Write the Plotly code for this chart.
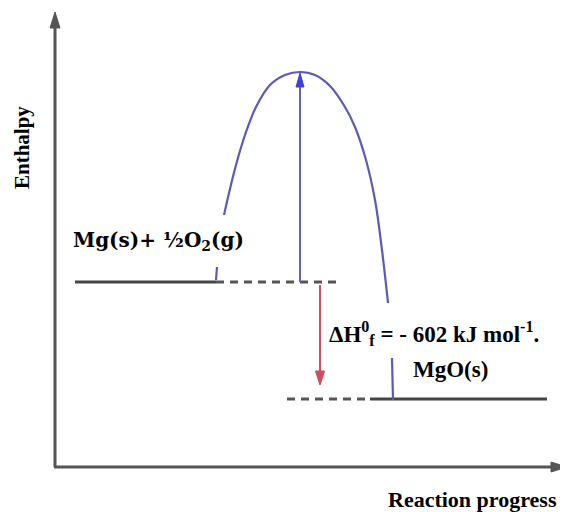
import plotly.graph_objects as go

# Data units: x = reaction progress, y = enthalpy (arbitrary units)
reactant_level = 185
product_level = 68
peak_level = 395

reactant_solid_x = [20, 161]
reactant_dash_x = [161, 282]
product_dash_x = [232, 315]
product_solid_x = [315, 492]

# Activation-energy curve (None marks where labels interrupt it)
curve_x = [161, 162, None, 169, 174, 181, 190, 201, 215, 230, 245, 260, 275, 290, 300, 311, 320, 327, 333,
           None, 337, 338]
curve_y = [187, 200, None, 252, 274, 302, 332, 360, 382, 392, 395, 392, 381, 360, 340, 307, 267, 217, 164,
           None, 109, 67]

ea_arrow_x = 245
dh_arrow_x = 265
dh_arrow_y = [182, 82]

axis_x_end = 512
axis_y_end = 455

labels = ["Mg(s)+ ½O<sub>2</sub>(g)",
          "ΔH<sup>0</sup><sub>f</sub> = - 602 kJ mol<sup>-1</sup>.",
          "MgO(s)"]
label_x = [16, 272, 356]
label_y = [226, 134, 98]
label_font = ["DejaVu Serif", "Liberation Serif", "Liberation Serif"]
label_size = [20, 23, 23]

SERIF = "Liberation Serif"
LINE = "#454545"
AXIS = "#555555"
CURVE = "#5a5ab8"

fig = go.Figure()


def seg(x, y, color, width, dash="solid"):
    fig.add_trace(go.Scatter(x=x, y=y, mode="lines",
                             line=dict(color=color, width=width, dash=dash),
                             hoverinfo="skip"))


def head(tx, ty, dx, dy, length, half, color):
    # filled triangular arrow head; (dx, dy) is the unit direction it points to
    bx, by = tx - dx * length, ty - dy * length
    px, py = -dy * half, dx * half
    fig.add_trace(go.Scatter(x=[tx, bx + px, bx - px, tx], y=[ty, by + py, by - py, ty],
                             mode="lines", fill="toself", fillcolor=color,
                             line=dict(color=color, width=1), hoverinfo="skip"))


# axes
seg([0, 0], [0, axis_y_end - 10], AXIS, 3)
head(0, axis_y_end, 0, 1, 16, 5, AXIS)
seg([-1, axis_x_end - 10], [0, 0], AXIS, 3)
head(axis_x_end, 0, 1, 0, 16, 5, AXIS)

# energy levels
seg(reactant_solid_x, [reactant_level] * 2, LINE, 3)
seg(reactant_dash_x, [reactant_level] * 2, "#555555", 3, dash="8px,6px")
seg(product_dash_x, [product_level] * 2, "#555555", 3, dash="8px,6px")
seg(product_solid_x, [product_level] * 2, LINE, 3)

# curve
fig.add_trace(go.Scatter(x=curve_x, y=curve_y, mode="lines",
                         line=dict(color=CURVE, width=2.2, shape="spline", smoothing=1.0),
                         connectgaps=False, hoverinfo="skip"))

# activation energy arrow
seg([ea_arrow_x, ea_arrow_x], [reactant_level, peak_level - 8], "#6464aa", 2)
head(ea_arrow_x, peak_level - 1, 0, 1, 14, 4, "#4040e0")

# enthalpy change arrow
seg([dh_arrow_x, dh_arrow_x], [dh_arrow_y[0], dh_arrow_y[1] + 8], "#c8505f", 2)
head(dh_arrow_x, dh_arrow_y[1], 0, -1, 14, 4.5, "#d04a60")

for t, lx, ly, fam, sz in zip(labels, label_x, label_y, label_font, label_size):
    fig.add_annotation(x=lx, y=ly, xref="x", yref="y", text="<b>" + t + "</b>",
                       showarrow=False, xanchor="left", yanchor="middle",
                       font=dict(family=fam, size=sz, color="black"))

fig.add_annotation(x=-33, y=319, xref="x", yref="y", text="<b>Enthalpy</b>",
                   showarrow=False, textangle=-90,
                   font=dict(family=SERIF, size=21, color="black"))
fig.add_annotation(x=417, y=-32, xref="x", yref="y", text="<b>Reaction progress</b>",
                   showarrow=False,
                   font=dict(family=SERIF, size=22, color="black"))

# the page body has an 8px margin; size figure so it ends at the window edge
fig.update_layout(width=560, height=504, margin=dict(l=0, r=0, t=0, b=0),
                  plot_bgcolor="white", paper_bgcolor="white", showlegend=False,
                  xaxis=dict(range=[-47, 513], visible=False, fixedrange=True),
                  yaxis=dict(range=[-45, 459], visible=False, fixedrange=True))

fig.write_html("out.html")
